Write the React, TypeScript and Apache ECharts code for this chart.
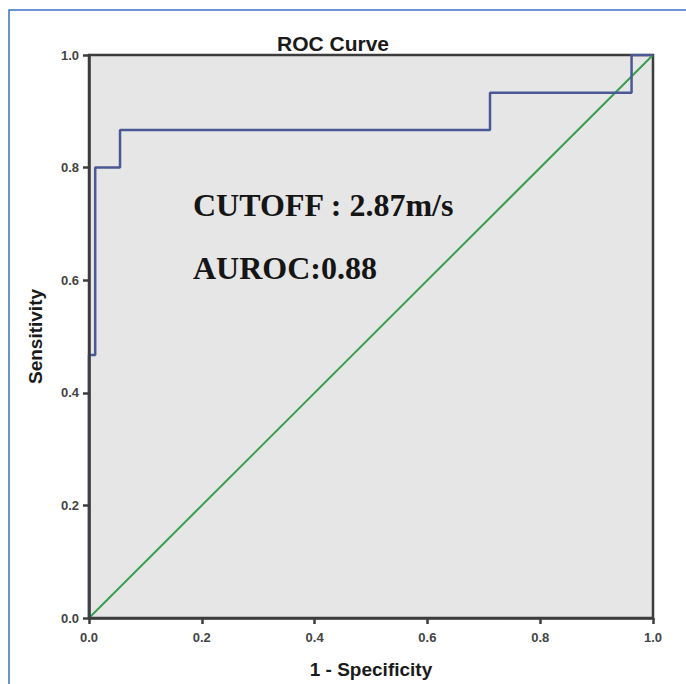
import React, { useEffect, useRef } from "react";
import * as echarts from "echarts";

const fpr = [0, 0, 0.011, 0.011, 0.055, 0.055, 0.711, 0.711, 0.962, 0.962, 1];
const tpr = [0, 0.467, 0.467, 0.8, 0.8, 0.867, 0.867, 0.933, 0.933, 1, 1];
const refX = [0, 1];
const refY = [0, 1];
const annotations = ["CUTOFF : 2.87m/s", "AUROC:0.88"];

export default function App() {
  const ref = useRef<HTMLDivElement>(null);
  useEffect(() => {
    if (!ref.current) return;
    const chart = echarts.init(ref.current, null, { renderer: "svg" });
    const axisCommon = {
      type: "value",
      min: 0,
      max: 1,
      interval: 0.2,
      z: 5,
      splitLine: { show: false },
      axisLine: { show: true, lineStyle: { color: "#3c3c3c", width: 2.5 } },
      axisTick: { show: true, length: 6, lineStyle: { color: "#3c3c3c", width: 2.5 } },
      nameTextStyle: {
        fontFamily: "Liberation Sans",
        fontWeight: "bold",
        fontSize: 19,
        color: "#1a1a1a",
      },
    };
    const labelStyle = {
      fontFamily: "Liberation Sans",
      fontWeight: "bold",
      fontSize: 13,
      color: "#444",
      formatter: (v: number) => v.toFixed(1),
    };
    chart.setOption({
      animation: false,
      backgroundColor: "#ffffff",
      title: {
        text: "ROC Curve",
        left: 272,
        top: 28,
        textStyle: {
          fontFamily: "Liberation Sans",
          fontWeight: "bold",
          fontSize: 21,
          color: "#1a1a1a",
        },
      },
      grid: {
        left: 89,
        top: 55,
        right: 33,
        bottom: 64,
        show: true,
        backgroundColor: "#e6e6e6",
        borderColor: "#3c3c3c",
        borderWidth: 2.5,
      },
      xAxis: {
        ...axisCommon,
        name: "1 - Specificity",
        nameLocation: "middle",
        nameGap: 42,
        axisLabel: { ...labelStyle, margin: 13 },
      },
      yAxis: {
        ...axisCommon,
        name: "Sensitivity",
        nameLocation: "middle",
        nameGap: 44,
        axisLabel: { ...labelStyle, margin: 10 },
      },
      series: [
        {
          type: "line",
          data: refX.map((x, i) => [x, refY[i]]),
          symbol: "none",
          lineStyle: { color: "#3a9e52", width: 2 },
          z: 2,
        },
        {
          type: "line",
          data: fpr.map((x, i) => [x, tpr[i]]),
          symbol: "none",
          lineStyle: { color: "#4b5896", width: 2.5 },
          z: 3,
        },
      ],
      graphic: [
        {
          type: "rect",
          shape: { x: 9, y: 10, width: 720, height: 720 },
          style: { fill: "none", stroke: "#3d6fc9", lineWidth: 1.5 },
          silent: true,
        },
        {
          type: "text",
          x: 193,
          y: 205,
          style: {
            text: annotations[0],
            fontFamily: "Liberation Serif",
            fontWeight: "bold",
            fontSize: 32,
            fill: "#151515",
            verticalAlign: "middle",
          },
        },
        {
          type: "text",
          x: 193,
          y: 268,
          style: {
            text: annotations[1],
            fontFamily: "Liberation Serif",
            fontWeight: "bold",
            fontSize: 32,
            fill: "#151515",
            verticalAlign: "middle",
          },
        },
      ],
    });
    return () => chart.dispose();
  }, []);
  return (
    <div
      ref={ref}
      style={{ position: "fixed", left: 0, top: 0, width: 686, height: 684 }}
    />
  );
}
